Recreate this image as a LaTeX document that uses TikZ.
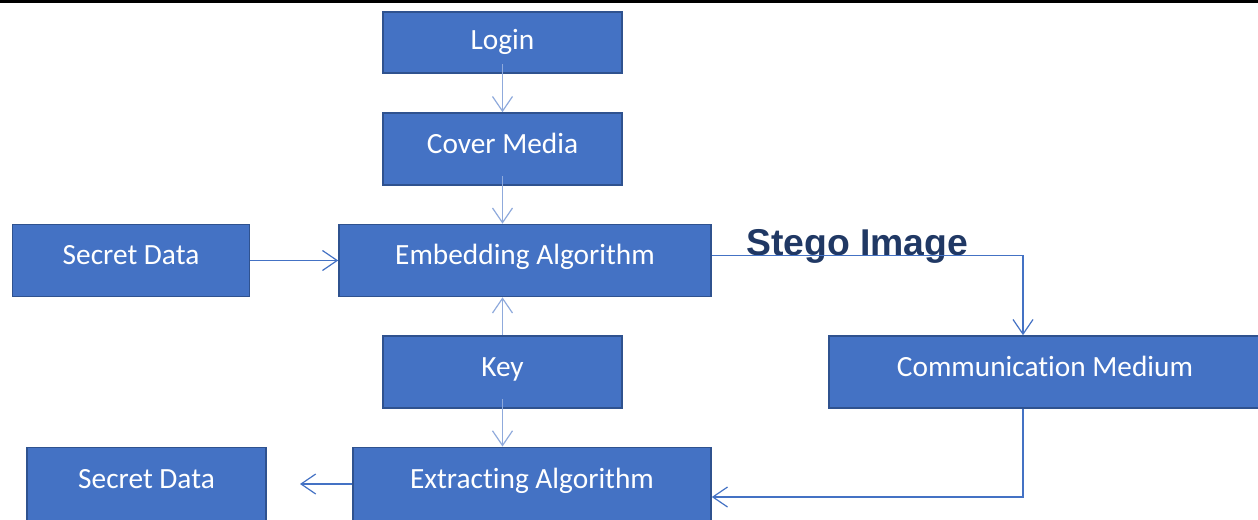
\documentclass[tikz,border=0pt]{standalone}
\usepackage{fontspec}
\setmainfont{Carlito}[Ligatures=NoCommon]
\newfontfamily\headfont{Liberation Sans}
\usetikzlibrary{arrows.meta}

\definecolor{boxblue}{HTML}{4472C4}
\definecolor{boxedge}{HTML}{2F528F}
\definecolor{paleblue}{HTML}{8FAADC}
\definecolor{navy}{HTML}{203864}

\begin{document}
\begin{tikzpicture}[x=0.75pt, y=-0.75pt,
    block/.style={draw=boxedge, fill=boxblue, line width=1.2pt, text=white,
        font=\fontsize{22}{24}\selectfont, inner sep=0pt, minimum height=54pt,
        text height=13pt, text depth=7pt},
    link/.style={draw=boxblue, line width=0.9pt, -{Straight Barb[length=11pt, width=15pt]}},
    pale link/.style={link, draw=paleblue}]
    \useasboundingbox (0, 0) rectangle (1258, 519);
    % rule along the top edge
    \fill[black] (0, 0) rectangle (1258, 2.7);

    % boxes
    \node[block, minimum width=179pt, minimum height=46pt, text height=15.5pt, text depth=5pt] (login) at (502.5, 42.5) {Login};
    \node[block, minimum width=179pt] (cover) at (502.5, 149) {Cover Media};
    \node[block, minimum width=178pt] (secretin) at (131, 260.5) {Secret Data};
    \node[block, minimum width=279pt] (embed) at (525, 260.5) {Embedding Algorithm};
    \node[block, minimum width=179pt] (key) at (502.5, 372) {Key};
    \node[block, minimum width=324pt] (medium) at (1045, 372) {Communication Medium};
    \node[block, minimum width=179pt, minimum height=55pt] (secretout) at (146.5, 484) {Secret Data};
    \node[block, minimum width=268.5pt, minimum height=55pt] (extract) at (532, 484) {Extracting Algorithm};
    \coordinate (outend) at (300, 484);

    \node[font=\headfont\bfseries\fontsize{28}{30}\selectfont, text=navy,
        inner sep=0pt, anchor=base west] (stego) at (746, 255) {Stego Image};

    % arrows
    \draw[pale link] ([yshift=7.5pt]login.south) -- (cover.north);
    \draw[pale link] ([yshift=7.5pt]cover.south) -- (embed.north -| cover.south);
    \draw[pale link] (key.north) -- (embed.south -| key.north);
    \draw[pale link] ([yshift=7.5pt]key.south) -- (extract.north -| key.south);
    \draw[link] (secretin.east) -- (embed.west);
    \draw[link] ([yshift=4pt]embed.east) -| ([xshift=-16.5pt]medium.north);
    \draw[link] ([xshift=-16.5pt]medium.south) |- ([yshift=-9.75pt]extract.east);
    \draw[link] (extract.west) -- (outend);
\end{tikzpicture}
\end{document}
